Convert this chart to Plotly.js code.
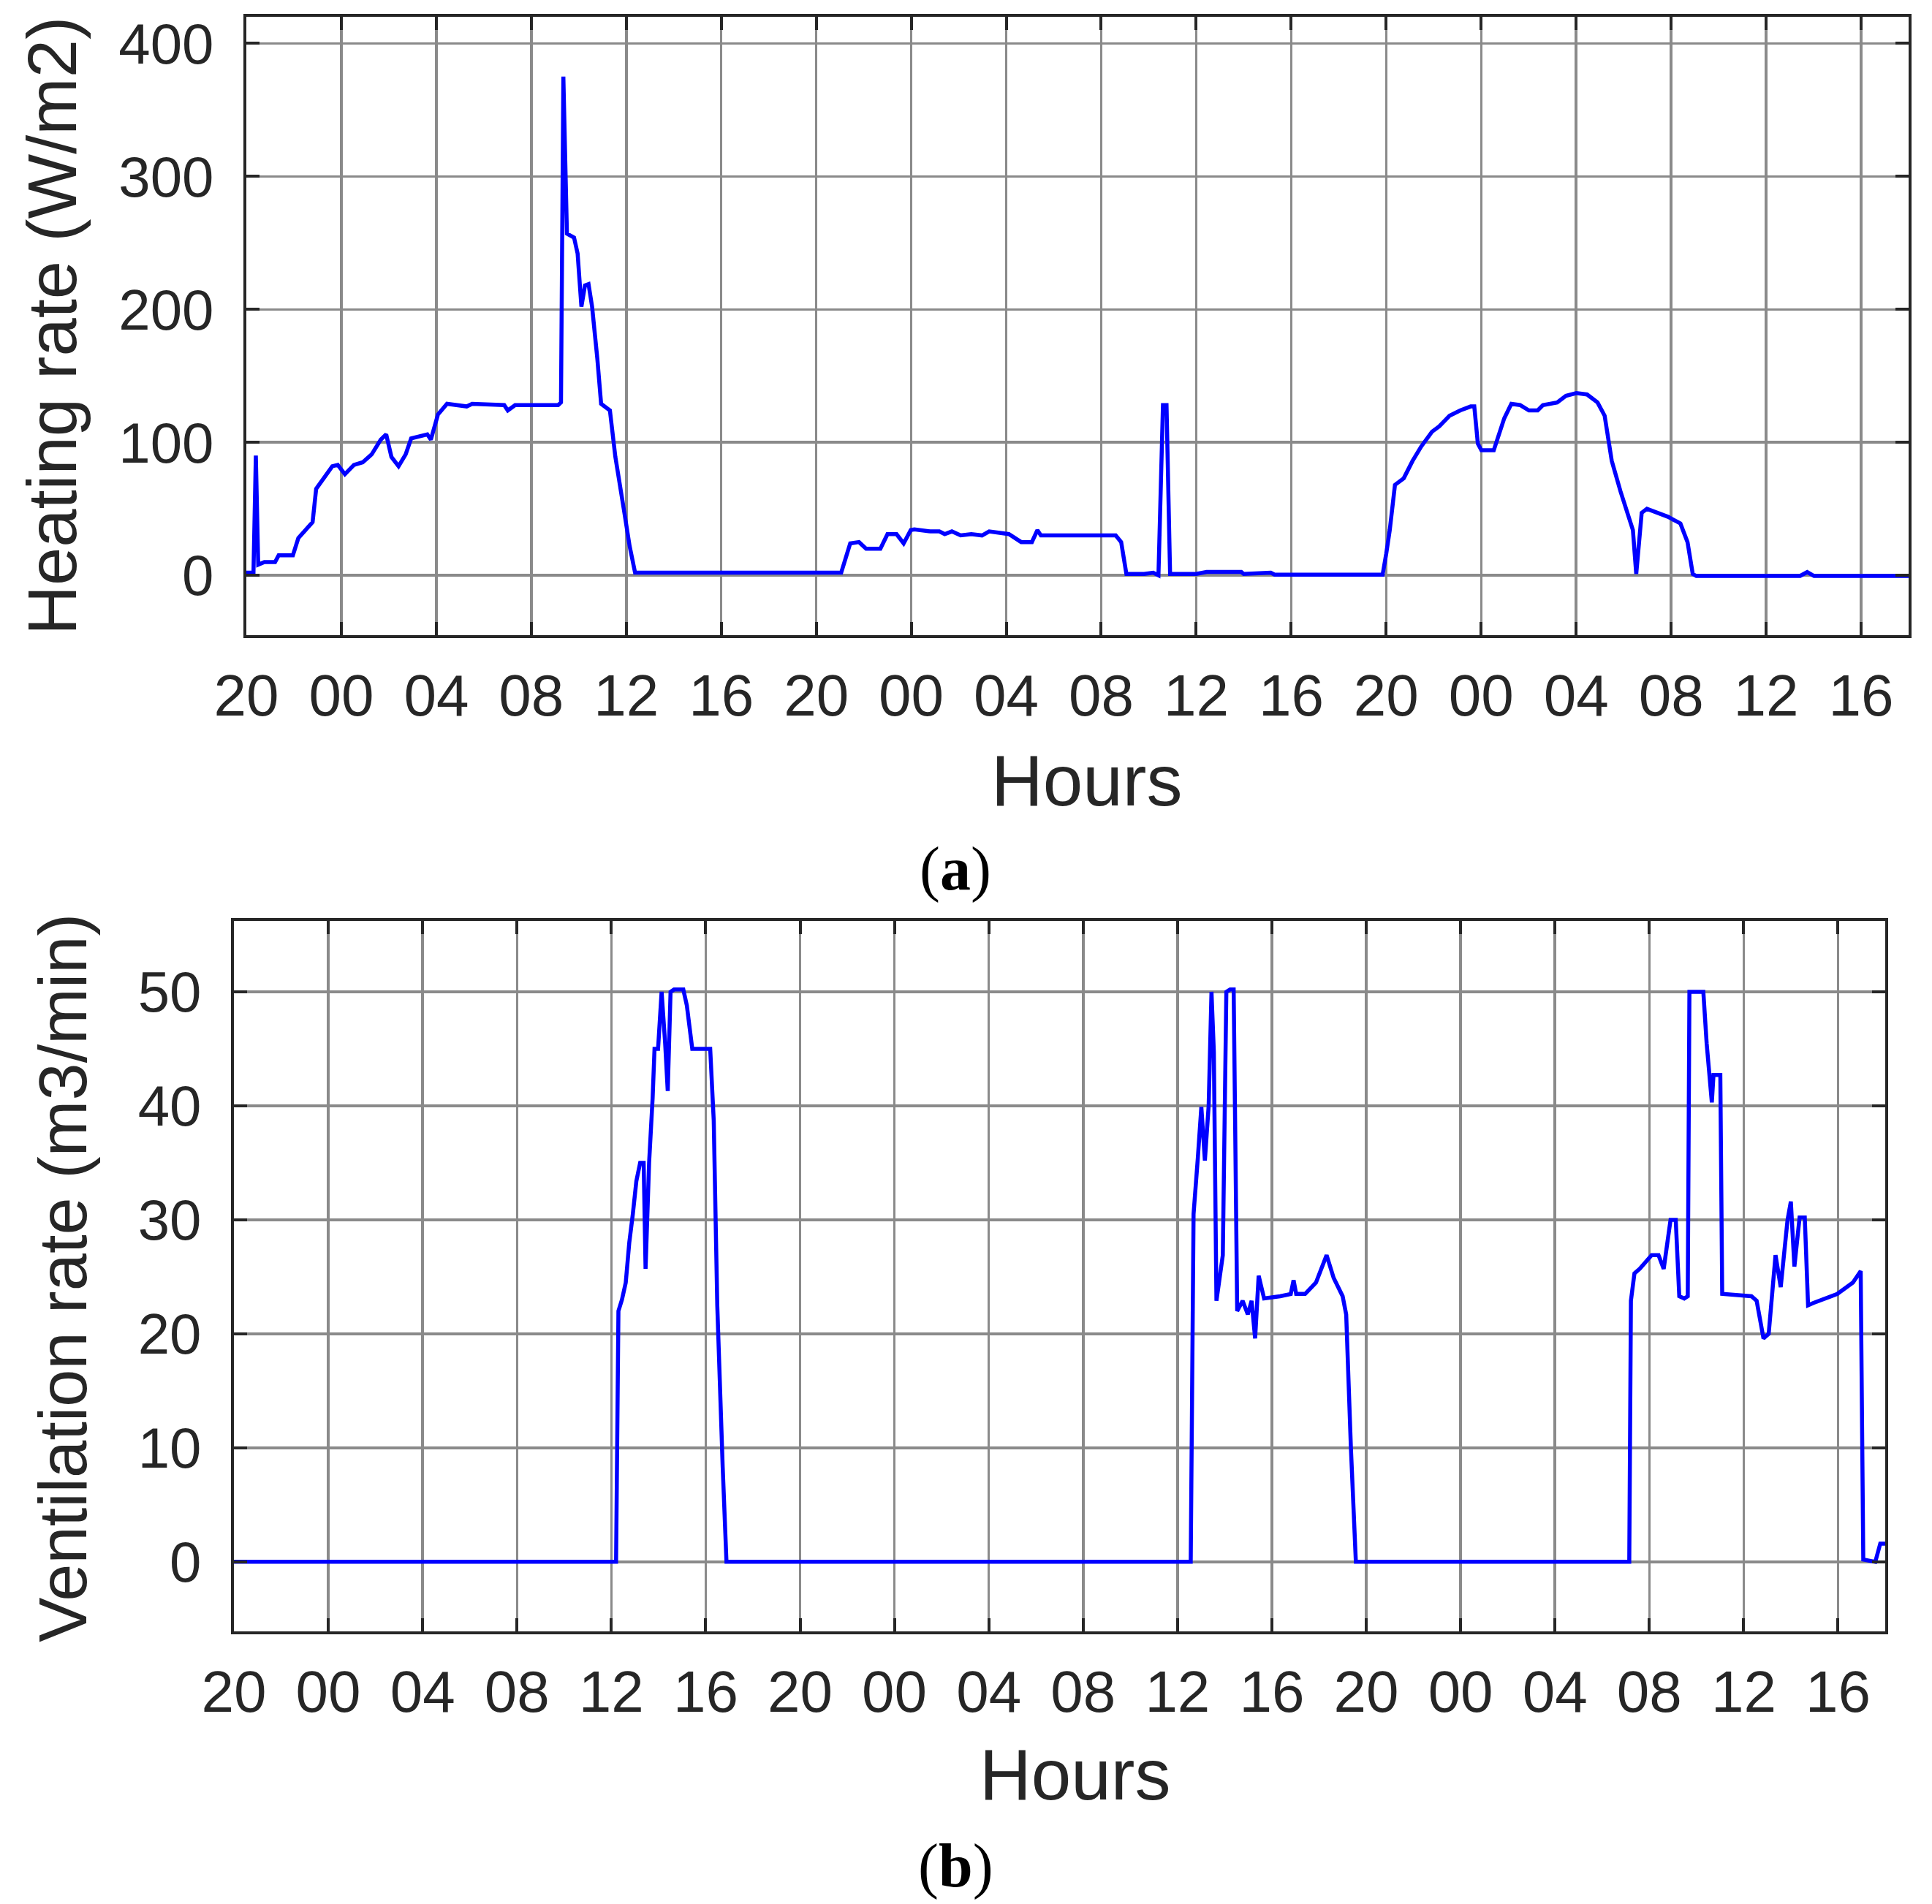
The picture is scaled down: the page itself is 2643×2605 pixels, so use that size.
<!DOCTYPE html>
<html>
<head>
<meta charset="utf-8">
<script src="https://cdn.plot.ly/plotly-3.0.1.min.js"></script>
<style>
  html, body { margin: 0; padding: 0; background: #ffffff; }
  #chart { width: 2643px; height: 2605px; }
</style>
</head>
<body>
<div id="chart"></div>
<script>
// ---- Data (hours since 20:00 of day 1) ----
const tickHours = [0, 4, 8, 12, 16, 20, 24, 28, 32, 36, 40, 44, 48, 52, 56, 60, 64, 68];
const tickLabels = ["20", "00", "04", "08", "12", "16", "20", "00", "04", "08", "12", "16", "20", "00", "04", "08", "12", "16"];

const heatHours = [0, 0.3, 0.4, 0.5, 0.76, 1.21, 1.36, 1.96, 2.19, 2.57, 2.79, 2.94, 3.32, 3.62, 3.85, 4.15, 4.53, 4.90, 5.28, 5.66, 5.89, 6.11, 6.41, 6.71, 6.94, 7.32, 7.62, 7.77, 7.92, 8.07, 8.45, 8.90, 9.28, 9.51, 10.86, 11.01, 11.32, 13.13, 13.25, 13.35, 13.5, 13.80, 13.95, 14.11, 14.26, 14.41, 14.56, 14.78, 14.94, 15.31, 15.54, 15.92, 16.14, 16.37, 25.05, 25.43, 25.80, 26.10, 26.70, 27.00, 27.38, 27.68, 27.98, 28.13, 28.80, 29.18, 29.41, 29.71, 30.08, 30.53, 30.98, 31.28, 32.11, 32.63, 33.08, 33.31, 33.46, 36.61, 36.84, 37.06, 37.81, 38.19, 38.41, 38.6, 38.75, 38.9, 40.0, 40.44, 41.9, 42.0, 43.14, 43.3, 47.85, 48.0, 48.15, 48.37, 48.74, 49.11, 49.48, 49.93, 50.23, 50.67, 51.12, 51.56, 51.71, 51.86, 52.01, 52.53, 52.75, 52.97, 53.27, 53.64, 54.01, 54.38, 54.60, 55.20, 55.57, 56.01, 56.46, 56.90, 57.20, 57.35, 57.50, 57.87, 58.24, 58.39, 58.53, 58.76, 58.98, 59.42, 59.87, 60.39, 60.69, 60.91, 61.06, 65.43, 65.73, 66.02, 70];
const heatRate = [2, 2, 90, 8, 10, 10, 15, 15, 28, 36, 40, 65, 74, 82, 83, 76, 83, 85, 91, 102, 106, 89, 82, 91, 103, 105, 106, 102, 112, 121, 129, 128, 127, 129, 128, 124, 128, 128, 130, 375, 257, 254, 242, 202, 218, 219, 202, 163, 129, 124, 89, 47, 22, 2, 2, 24, 25, 20, 20, 31, 31, 24, 34, 34.5, 33, 33, 31, 33, 30, 31, 30, 33, 31, 25, 25, 34, 30, 30, 25, 1, 1, 2, 0, 128, 128, 1, 1, 2.5, 2.5, 1, 2, 0.5, 0.5, 16, 34, 68, 73, 86, 97, 108, 112, 120, 124, 127, 127, 99, 94, 94, 105, 118, 129, 128, 124, 124, 128, 130, 135, 137, 136, 130, 120, 102, 86, 63, 41, 34, 1, 47, 50, 47, 44, 39, 25, 1, -0.5, -0.5, 2.4, -0.5, -0.5];

const ventHours = [0, 16.20, 16.30, 16.45, 16.61, 16.76, 16.91, 17.06, 17.22, 17.37, 17.45, 17.60, 17.75, 17.83, 17.98, 18.13, 18.28, 18.39, 18.51, 18.66, 19.05, 19.20, 19.43, 20.19, 20.34, 20.49, 20.72, 20.88, 40.56, 40.68, 40.86, 41.01, 41.16, 41.32, 41.44, 41.54, 41.65, 41.77, 41.92, 42.07, 42.23, 42.38, 42.53, 42.76, 42.98, 43.14, 43.29, 43.44, 43.67, 44.35, 44.80, 44.92, 45.03, 45.41, 45.87, 46.32, 46.62, 47.00, 47.15, 47.35, 47.56, 59.15, 59.22, 59.37, 59.59, 60.10, 60.39, 60.61, 60.90, 61.12, 61.27, 61.48, 61.63, 61.70, 62.29, 62.43, 62.65, 62.72, 63.01, 63.09, 64.33, 64.55, 64.84, 65.06, 65.35, 65.57, 65.71, 65.86, 66.00, 66.15, 66.37, 66.59, 66.73, 66.95, 67.97, 68.63, 68.96, 69.07, 69.58, 69.79, 70];
const ventRate = [0, 0, 22, 23, 24.5, 28, 30.5, 33.4, 35, 35, 25.7, 35, 40.7, 45, 45, 50, 45.5, 41.3, 50, 50.2, 50.2, 48.8, 45, 45, 38.7, 22.5, 8.3, 0, 0, 30.5, 35.4, 39.9, 35.2, 40, 50, 44.7, 22.9, 24.5, 26.9, 50, 50.2, 50.2, 22, 22.9, 21.7, 22.9, 19.6, 25.1, 23.1, 23.3, 23.5, 24.7, 23.5, 23.5, 24.5, 26.9, 24.9, 23.3, 21.7, 10, 0, 0, 22.9, 25.3, 25.7, 26.9, 26.9, 25.7, 30, 30, 23.3, 23.1, 23.3, 50, 50, 45.5, 40.3, 42.7, 42.7, 23.5, 23.3, 22.9, 19.6, 20, 26.9, 24.1, 27.3, 30, 31.6, 25.9, 30.2, 30.2, 22.5, 22.7, 23.5, 24.5, 25.5, 0.2, 0, 1.6, 1.6];

const heatTicks = [0, 100, 200, 300, 400];
const ventTicks = [0, 10, 20, 30, 40, 50];

// ---- Styling ----
const W = 2643, H = 2605;
const AX = '#262626';
const GRID = '#8a8a8a';
const tickFontX = { family: 'Liberation Sans, Arial, sans-serif', size: 80, color: AX };
const tickFontY = { family: 'Liberation Sans, Arial, sans-serif', size: 78, color: AX };

function xAxis(domain, anchor) {
  return {
    domain: domain, anchor: anchor, range: [0, 70],
    tickmode: 'array', tickvals: tickHours, ticktext: tickLabels,
    ticks: 'inside', ticklen: 18, tickwidth: 4, tickcolor: AX,
    showline: true, linecolor: AX, linewidth: 4, mirror: 'ticks',
    showgrid: true, gridcolor: GRID, gridwidth: 3.5, zeroline: false,
    tickfont: tickFontX, ticklabelstandoff: 10, fixedrange: true
  };
}
function yAxis(domain, anchor, range, ticks) {
  return {
    domain: domain, anchor: anchor, range: range,
    tickmode: 'array', tickvals: ticks,
    ticks: 'inside', ticklen: 18, tickwidth: 4, tickcolor: AX,
    showline: true, linecolor: AX, linewidth: 4, mirror: 'ticks',
    showgrid: true, gridcolor: GRID, gridwidth: 3.5, zeroline: false,
    tickfont: tickFontY, ticklabelstandoff: 25, fixedrange: true
  };
}

const traces = [
  { x: heatHours, y: heatRate, xaxis: 'x', yaxis: 'y', type: 'scatter', mode: 'lines',
    line: { color: '#0000ff', width: 5.5 }, name: 'Heating rate', showlegend: false },
  { x: ventHours, y: ventRate, xaxis: 'x2', yaxis: 'y2', type: 'scatter', mode: 'lines',
    line: { color: '#0000ff', width: 5.5 }, name: 'Ventilation rate', showlegend: false }
];

const titleFont = { family: 'Liberation Sans, Arial, sans-serif', color: AX };
const labelFont = { family: 'Liberation Serif, Times New Roman, serif', size: 84, color: '#000000' };

const layout = {
  width: W, height: H,
  margin: { l: 0, r: 0, t: 0, b: 0 },
  paper_bgcolor: '#ffffff', plot_bgcolor: '#ffffff',
  showlegend: false,
  xaxis: xAxis([337 / W, 2611 / W], 'y'),
  yaxis: yAxis([1 - 869 / H, 1 - 23 / H], 'x', [-45, 420], heatTicks),
  xaxis2: xAxis([320 / W, 2579 / W], 'y2'),
  yaxis2: yAxis([1 - 2232 / H, 1 - 1259.5 / H], 'x2', [-6.1, 56.25], ventTicks),
  annotations: [
    { text: 'Heating rate (W/m2)', xref: 'paper', yref: 'paper', x: 71 / W, y: 1 - 446 / H,
      xanchor: 'center', yanchor: 'middle', textangle: -90, showarrow: false,
      font: Object.assign({ size: 94 }, titleFont) },
    { text: 'Hours', xref: 'paper', yref: 'paper', x: 1486 / W, y: 1 - 1068 / H,
      xanchor: 'center', yanchor: 'middle', showarrow: false,
      font: Object.assign({ size: 98 }, titleFont) },
    { text: '(<b>a</b>)', xref: 'paper', yref: 'paper', x: 1307 / W, y: 1 - 1189 / H,
      xanchor: 'center', yanchor: 'middle', showarrow: false, font: labelFont },
    { text: 'Ventilation rate (m3/min)', xref: 'paper', yref: 'paper', x: 86 / W, y: 1 - 1749 / H,
      xanchor: 'center', yanchor: 'middle', textangle: -90, showarrow: false,
      font: Object.assign({ size: 92 }, titleFont) },
    { text: 'Hours', xref: 'paper', yref: 'paper', x: 1470 / W, y: 1 - 2428 / H,
      xanchor: 'center', yanchor: 'middle', showarrow: false,
      font: Object.assign({ size: 98 }, titleFont) },
    { text: '(<b>b</b>)', xref: 'paper', yref: 'paper', x: 1307 / W, y: 1 - 2553 / H,
      xanchor: 'center', yanchor: 'middle', showarrow: false, font: labelFont }
  ]
};

Plotly.newPlot('chart', traces, layout, { staticPlot: true, displayModeBar: false });
</script>
</body>
</html>
